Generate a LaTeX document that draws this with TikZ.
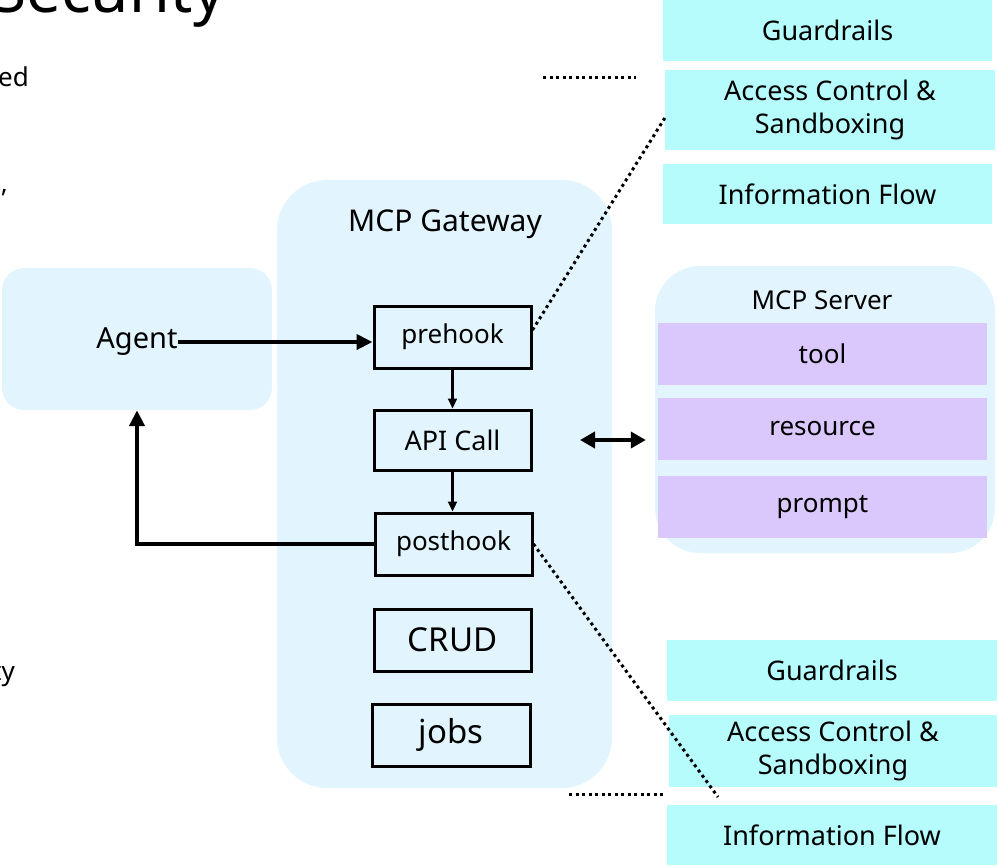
\documentclass[tikz,border=0pt]{standalone}
\usepackage{fontspec}
\setmainfont{Noto Sans}
\usetikzlibrary{arrows.meta}
\definecolor{gwblue}{RGB}{226,245,254}
\definecolor{cyanbox}{RGB}{182,252,252}
\definecolor{purplebox}{RGB}{218,200,252}
\begin{document}
\begin{tikzpicture}[x=1pt,y=-1pt,
  container/.style={fill=gwblue,draw=none,inner sep=0pt},
  hookbox/.style={draw=black,line width=3pt,minimum width=157pt,minimum height=62pt,inner sep=0pt,font=\fontsize{26}{30}\selectfont},
  bigbox/.style={hookbox,font=\fontsize{33}{38}\selectfont},
  cyanrect/.style={fill=cyanbox,draw=none,inner sep=0pt,align=center,font=\fontsize{27}{33}\selectfont},
  purplerect/.style={fill=purplebox,draw=none,inner sep=0pt,minimum width=329pt,minimum height=62pt,font=\fontsize{26}{30}\selectfont},
  lbl/.style={inner sep=0pt},
  thickarrow/.style={line width=4pt,-{Triangle[length=16pt,width=15pt]}},
  thinarrow/.style={line width=2.2pt,-{Triangle[length=10pt,width=9pt]}},
  dotline/.style={line width=3pt,dash pattern=on 3pt off 3.5pt}
]
\useasboundingbox (0,0) rectangle (998,865);
\clip (0,0) rectangle (998,865);

% partial slide text on the left
\node[lbl,anchor=base west,font=\fontsize{62}{70}\selectfont] (title) at (-8,12) {Security};
\node[lbl,anchor=base east,font=\fontsize{26}{30}\selectfont] (t1) at (29,86) {ed};
\node[lbl,anchor=base east,font=\fontsize{26}{30}\selectfont] (t2) at (8,192) {,};
\node[lbl,anchor=base east,font=\fontsize{26}{30}\selectfont] (t3) at (14,349) {ls};
\node[lbl,anchor=base east,font=\fontsize{26}{30}\selectfont] (t4) at (15,680) {ty};

% containers
\node[container,rounded corners=50pt,minimum width=335pt,minimum height=608pt] (gw) at (444.5,484) {};
\node[container,rounded corners=22pt,minimum width=270pt,minimum height=142pt] (agentbox) at (137,339) {};
\node[container,rounded corners=45pt,minimum width=340pt,minimum height=287pt] (server) at (825,409.5) {};

\node[lbl,font=\fontsize{30}{34}\selectfont] (gwlabel) at (445,224) {MCP Gateway};
\node[lbl,font=\fontsize{29}{33}\selectfont] (agent) at (137,342) {Agent};
\node[lbl,font=\fontsize{26}{30}\selectfont] (srvlabel) at (822,300) {MCP Server};

% gateway boxes
\node[hookbox] (pre) at (452.5,337) {\raisebox{-2pt}{prehook}};
\node[hookbox,minimum height=60pt,font=\fontsize{27}{31}\selectfont] (api) at (452.5,440) {API Call};
\node[hookbox] (post) at (453.5,544) {\raisebox{-2pt}{posthook}};
\node[bigbox] (crud) at (452.5,640) {CRUD};
\node[bigbox,minimum width=158pt] (jobs) at (451,735) {jobs};

% server items
\node[purplerect] (tool) at (822.5,354) {tool};
\node[purplerect] (res) at (822.5,429) {resource};
\node[purplerect] (prompt) at (822.5,507) {prompt};

% cyan boxes top
\node[cyanrect,minimum width=329pt,minimum height=61pt] (g1) at (827.5,30.5) {Guardrails};
\node[cyanrect,minimum width=330pt,minimum height=80pt] (a1) at (830,110) {Access Control \&\\Sandboxing};
\node[cyanrect,minimum width=329pt,minimum height=60pt] (i1) at (827.5,194) {Information Flow};
% cyan boxes bottom
\node[cyanrect,minimum width=330pt,minimum height=61pt] (g2) at (832,670.5) {Guardrails};
\node[cyanrect,minimum width=328pt,minimum height=72pt] (a2) at (833,751) {Access Control \&\\Sandboxing};
\node[cyanrect,minimum width=330pt,minimum height=60pt] (i2) at (832,835) {Information Flow};

% connectors
\draw[thickarrow] (agent.east) -- (agent.east -| pre.west);
\draw[thinarrow] (pre.south) -- (api.north);
\draw[thinarrow] (api.south) -- (api.south |- post.north);
\draw[thickarrow] (post.west) -| (agentbox.south);
\coordinate (dl) at (580,440);
\draw[line width=4pt,{Triangle[length=15pt,width=16pt]}-{Triangle[length=15pt,width=16pt]},shorten >=9pt] (dl) -- (server.west |- dl);

% dotted lines
\coordinate (h1a) at (543,77);
\coordinate (h1b) at (636,77);
\draw[dotline] (h1a) -- (h1b);
\draw[dotline] ([yshift=7pt]pre.east) -- ([yshift=-8pt]a1.west);
\coordinate (h2a) at (569,794);
\coordinate (h2b) at (663,794);
\draw[dotline] (h2a) -- (h2b);
\coordinate (d2) at (718,797);
\draw[dotline] (post.east) -- (d2);
\end{tikzpicture}
\end{document}
